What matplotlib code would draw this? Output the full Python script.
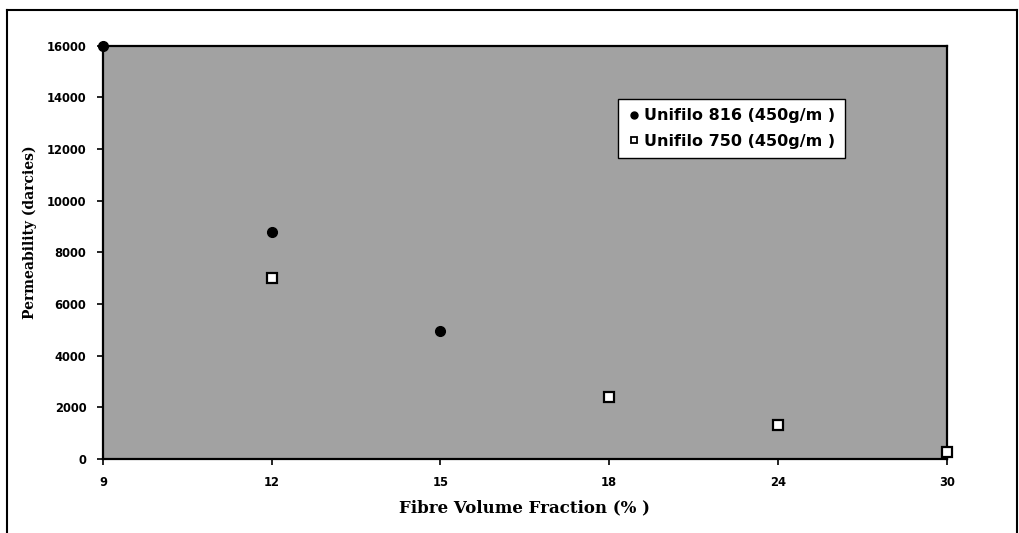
import matplotlib.pyplot as plt
import numpy as np
from matplotlib.lines import Line2D

# fibre volume fraction categories (equally spaced category axis)
categories = ['9', '12', '15', '18', '24', '30']

# Unifilo 816 (450g/m )
u816_cat = ['9', '12', '15']
u816_perm = [16000, 8800, 4950]

# Unifilo 750 (450g/m )
u750_cat = ['12', '18', '24', '30']
u750_perm = [7000, 2400, 1300, 280]

yticks = [0, 2000, 4000, 6000, 8000, 10000, 12000, 14000, 16000]

pos = {c: i for i, c in enumerate(categories)}

fig = plt.figure(figsize=(10.19, 5.33), dpi=100)
ax = fig.add_axes([0.101, 0.139, 0.828, 0.775])
ax.set_facecolor('#a2a2a2')

x816 = [pos[c] for c in u816_cat]
x750 = [pos[c] for c in u750_cat]
ax.plot(x816, u816_perm, 'o', color='black', markersize=7, clip_on=False, zorder=5)
ax.plot(x750, u750_perm, 's', color='black', markerfacecolor='white',
        markeredgewidth=1.6, markersize=6.5, clip_on=False, zorder=5)

ax.set_xlim(0, len(categories) - 1)
ax.set_ylim(0, 16000)
ax.set_xticks(range(len(categories)))
ax.set_xticklabels(categories)
ax.set_yticks(yticks)
ax.set_yticklabels([str(v) for v in yticks])

for lab in ax.get_xticklabels() + ax.get_yticklabels():
    lab.set_fontweight('bold')
    lab.set_fontsize(8.3)
    lab.set_family('DejaVu Sans')
ax.tick_params(direction='out', length=4, width=1.2, pad=8)

for s in ax.spines.values():
    s.set_linewidth(1.6)
    s.set_color('black')

ax.set_xlabel('Fibre Volume Fraction (% )', fontsize=12, fontweight='bold',
              family='DejaVu Serif', labelpad=8)
ax.set_ylabel('Permeability (darcies)', fontsize=10, fontweight='bold',
              family='DejaVu Serif')
ax.yaxis.set_label_coords(-0.078, 0.55)

handles = [
    Line2D([], [], marker='o', color='black', linestyle='none', markersize=5),
    Line2D([], [], marker='s', color='black', markerfacecolor='white',
           linestyle='none', markersize=5, markeredgewidth=1.3),
]
leg = ax.legend(handles, ['Unifilo 816 (450g/m )', 'Unifilo 750 (450g/m )'],
                loc='upper left', bbox_to_anchor=(0.61, 0.872),
                prop={'family': 'DejaVu Sans', 'weight': 'bold', 'size': 11.5},
                frameon=True, fancybox=False, framealpha=1, edgecolor='black',
                handletextpad=0.15, handlelength=0.9, borderpad=0.6,
                labelspacing=0.65, borderaxespad=0)
leg.get_frame().set_linewidth(1.0)

# outer frame (left, top, right)
W, H = 1019.0, 533.0
fx0, fx1, fy = 7 / W, 1017 / W, 1 - 10 / H
for xs, ys in [([fx0, fx0], [0.0, fy]), ([fx0, fx1], [fy, fy]), ([fx1, fx1], [0.0, fy])]:
    fig.add_artist(Line2D(xs, ys, color='black', lw=1.5, transform=fig.transFigure))

fig.savefig('out.png', dpi=100)
